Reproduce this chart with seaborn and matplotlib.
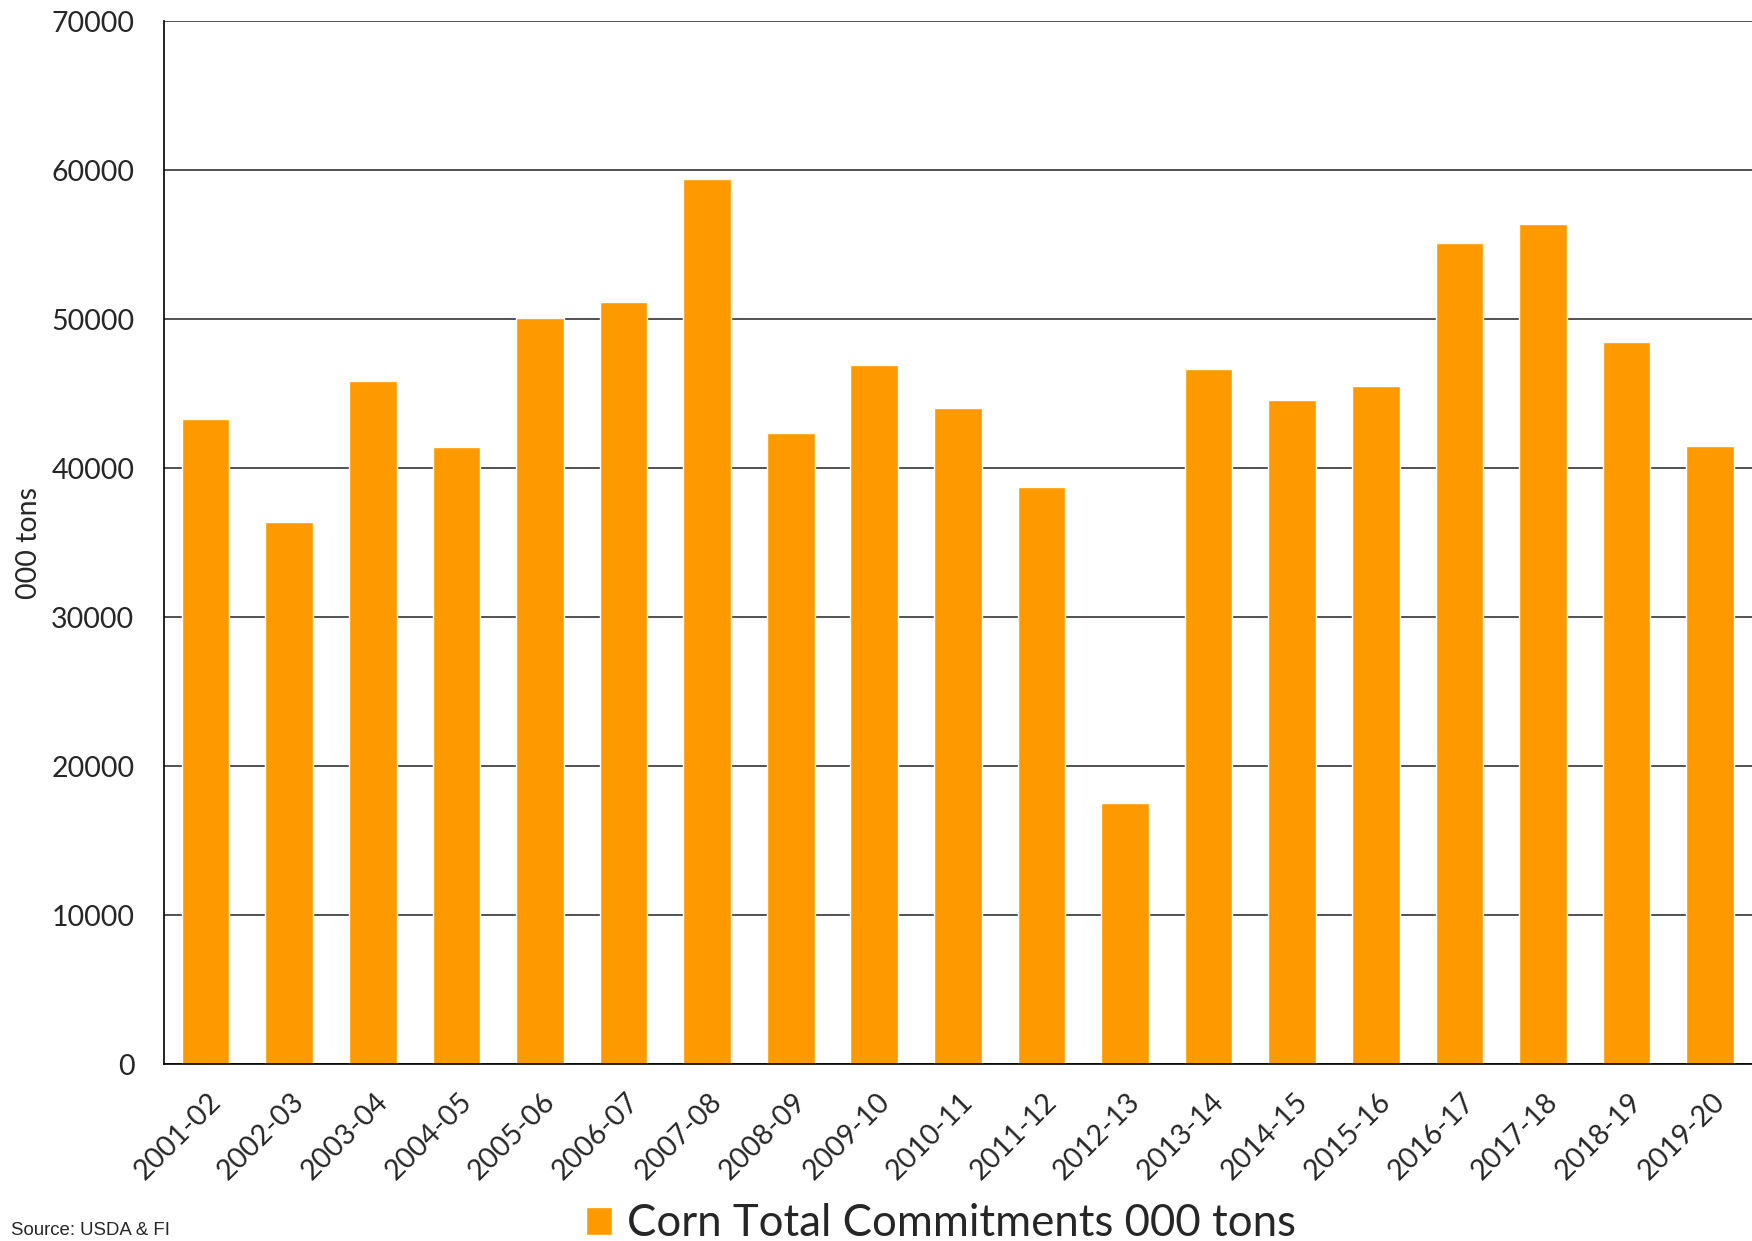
import numpy as np
import pandas as pd
import matplotlib
matplotlib.use("Agg")
import matplotlib.pyplot as plt
import matplotlib.transforms as mtransforms
import seaborn as sns

# ---- data ----
seasons = ["2001-02", "2002-03", "2003-04", "2004-05", "2005-06", "2006-07",
           "2007-08", "2008-09", "2009-10", "2010-11", "2011-12", "2012-13",
           "2013-14", "2014-15", "2015-16", "2016-17", "2017-18", "2018-19",
           "2019-20"]
commitments = [43300, 36350, 45850, 41400, 50050, 51150, 59400, 42350, 46900,
               44050, 38700, 17550, 46650, 44550, 45500, 55100, 56400, 48450,
               41500]
yticks = [0, 10000, 20000, 30000, 40000, 50000, 60000, 70000]
series_name = "Corn Total Commitments 000 tons"

df = pd.DataFrame({"season": seasons, "tons": commitments})

sns.set_style("white")
plt.rcParams["font.family"] = ["Lato", "DejaVu Sans"]

fig = plt.figure(figsize=(17.52, 12.41), dpi=100)
ax = fig.add_axes([0.0935, 0.1426, 0.9065, 0.8404])

sns.barplot(data=df, x="season", y="tons", color="#FF9900", saturation=1,
            width=0.57, ax=ax, label=series_name)

ax.set_xlim(-0.5, len(seasons) - 0.5)
ax.set_ylim(0, 70000)
ax.set_yticks(yticks)
ax.set_yticklabels([str(t) for t in yticks], fontsize=20.5)
ax.tick_params(axis="y", length=7.2, width=1, color="#333333", pad=14)

# gridlines
ax.yaxis.grid(True, color="#333333", lw=1.2)
ax.set_axisbelow(True)

# spines
for s in ["top", "right"]:
    ax.spines[s].set_visible(False)
for s in ["left", "bottom"]:
    ax.spines[s].set_color("black")
    ax.spines[s].set_linewidth(1.2)

# x ticks: boundaries get tick marks, centres get the labels
ax.set_xticks(np.arange(len(seasons) + 1) - 0.5, minor=True)
ax.tick_params(axis="x", which="minor", length=7.2, width=1.2, color="#444444")
ax.set_xticks(range(len(seasons)))
ax.set_xticklabels(seasons, rotation=45, ha="right", va="center",
                   rotation_mode="anchor", fontsize=20.5)
ax.tick_params(axis="x", which="major", length=0, pad=24)
shift = mtransforms.ScaledTranslation(11 / 100, 0, fig.dpi_scale_trans)
for lbl in ax.get_xticklabels():
    lbl.set_transform(lbl.get_transform() + shift)

ax.set_xlabel("")
ax.set_ylabel("000 tons", fontsize=20.5)
ax.yaxis.set_label_coords(-0.077, 0.5)

# legend at the bottom
if ax.get_legend() is not None:
    ax.get_legend().remove()
handles, labels = ax.get_legend_handles_labels()
fig.legend(handles[:1], [series_name], loc="lower left",
           bbox_to_anchor=(0.3345, -0.0025), frameon=False, fontsize=31.5,
           handlelength=0.6, handleheight=0.6, handletextpad=0.34,
           borderpad=0, borderaxespad=0)

fig.text(0.0063, 1 - 1235 / 1241, "Source: USDA & FI", fontsize=13.4,
         family=["Liberation Sans", "DejaVu Sans"], ha="left", va="baseline")

fig.savefig("out.png", dpi=100)
